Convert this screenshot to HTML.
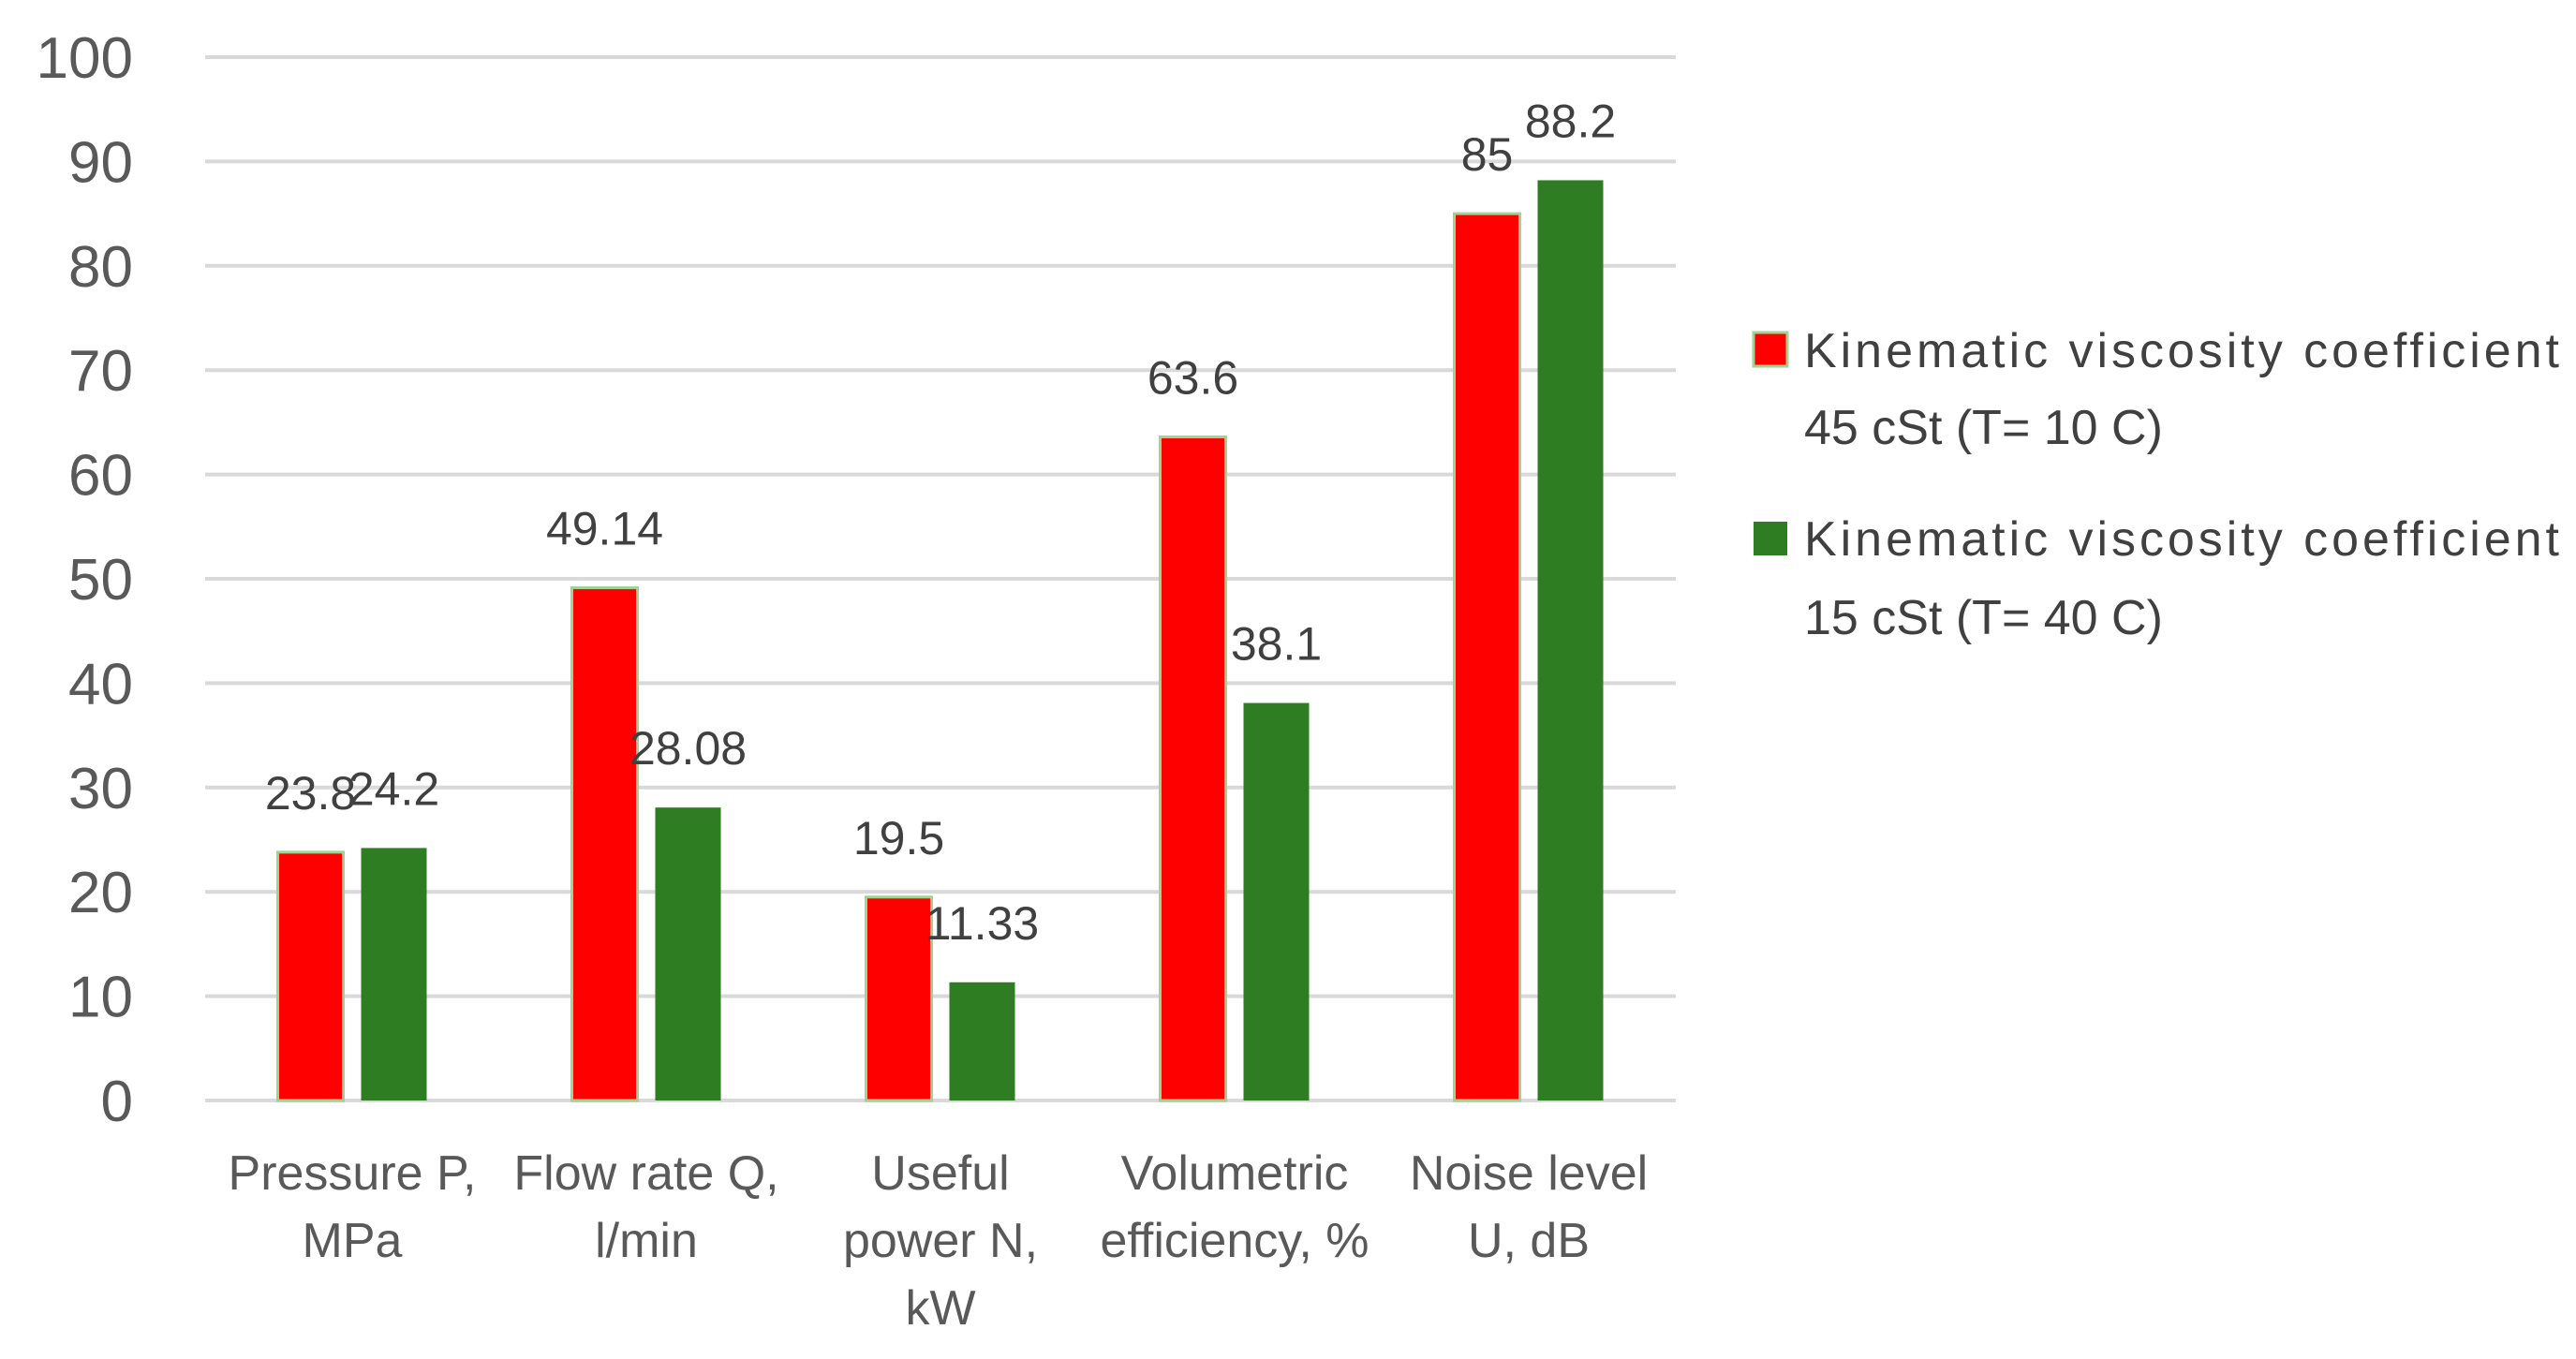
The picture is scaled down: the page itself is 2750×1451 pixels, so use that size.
<!DOCTYPE html>
<html><head><meta charset="utf-8"><style>
html,body{margin:0;padding:0;background:#fff;}
svg{display:block;font-family:"Liberation Sans",sans-serif;}
</style></head><body>
<svg id="chart" width="2750" height="1451" viewBox="0 0 2750 1451" xmlns="http://www.w3.org/2000/svg">
<g id="grid"></g>
<g id="yticks"></g>
<g id="bars"></g>
<g id="vals"></g>
<g id="xlabels"></g>
<g>
  <g>
    <rect x="1872" y="355" width="36" height="36" fill="#ff0000" stroke="#9fd38f" stroke-width="3"/>
    <text x="1926" y="392" font-size="52" fill="#404040" textLength="806">Kinematic viscosity coefficient</text>
    <text x="1926" y="474" font-size="52" fill="#404040">45 cSt (T= 10 C)</text>
  </g>
  <g>
    <rect x="1872" y="557" width="36" height="36" fill="#2e7d23"/>
    <text x="1926" y="593" font-size="52" fill="#404040" textLength="806">Kinematic viscosity coefficient</text>
    <text x="1926" y="677" font-size="52" fill="#404040">15 cSt (T= 40 C)</text>
  </g>
</g>
</svg>
<script>
const categories = [["Pressure P,","MPa"],["Flow rate Q,","l/min"],["Useful","power N,","kW"],["Volumetric","efficiency, %"],["Noise level","U, dB"]];
const series45 = [23.8, 49.14, 19.5, 63.6, 85];
const series15 = [24.2, 28.08, 11.33, 38.1, 88.2];
const labels45 = ["23.8","49.14","19.5","63.6","85"];
const labels15 = ["24.2","28.08","11.33","38.1","88.2"];
const yTicks = [0,10,20,30,40,50,60,70,80,90,100];

const NS="http://www.w3.org/2000/svg";
const X0=219, X1=1789, Y0=1175, YT=61, YMAX=100;
const catW=(X1-X0)/categories.length, barW=70, gap=19;
function y(v){return Y0-(v/YMAX)*(Y0-YT);}
function catX(i){return X0+catW*i+catW/2;}
function mk(tag,attrs,parent){const e=document.createElementNS(NS,tag);for(const k in attrs)e.setAttribute(k,attrs[k]);parent.appendChild(e);return e;}
const grid=document.getElementById('grid'), yt=document.getElementById('yticks'), bars=document.getElementById('bars'), vals=document.getElementById('vals'), xl=document.getElementById('xlabels');
yTicks.forEach(t=>{
  const l=mk('line',{x1:X0,x2:X1,y1:y(t),y2:y(t),stroke:'#d9d9d9','stroke-width':4},grid);
  
  
  const tx=mk('text',{x:142,y:y(t)+22,'font-size':62,'text-anchor':'end',fill:'#595959'},yt);
  tx.textContent=t;
  
  
});
categories.forEach((c,i)=>{
  const cx=catX(i);
  const rx=cx-gap/2-barW, gx=cx+gap/2;
  const r=mk('rect',{x:rx,y:y(series45[i]),width:barW,height:Y0-y(series45[i]),fill:'#ff0000',stroke:'#9fd38f','stroke-width':3},bars);
  
  
  const g=mk('rect',{x:gx,y:y(series15[i]),width:barW,height:Y0-y(series15[i]),fill:'#2e7d23'},bars);
  
  
  const t1=mk('text',{x:rx+barW/2,y:y(series45[i])-46,'font-size':50,'text-anchor':'middle',fill:'#404040'},vals);
  t1.textContent=labels45[i];
  
  
  const t2=mk('text',{x:gx+barW/2,y:y(series15[i])-46,'font-size':50,'text-anchor':'middle',fill:'#404040'},vals);
  t2.textContent=labels15[i];
  
  
  c.forEach((line,j)=>{
    const t=mk('text',{x:cx,y:1270+j*72,'font-size':52,'text-anchor':'middle',fill:'#595959'},xl);
    t.textContent=line;
    
    
  });
});
</script>
</body></html>
